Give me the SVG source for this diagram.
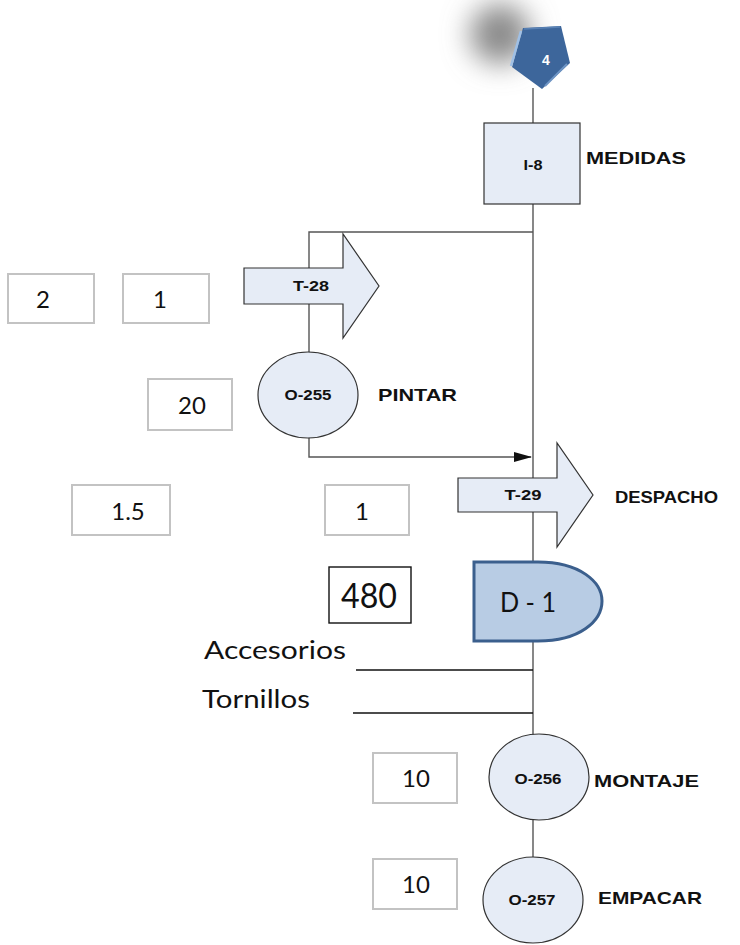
<svg xmlns="http://www.w3.org/2000/svg" width="740" height="945" viewBox="0 0 740 945">
  <defs>
    <filter id="soft" x="-1" y="-1" width="3" height="3">
      <feGaussianBlur stdDeviation="14"/>
    </filter>
    <marker id="arrow" markerWidth="18" markerHeight="10" refX="17" refY="5" orient="auto" markerUnits="userSpaceOnUse">
      <path d="M0,0 L18,5 L0,10 Z" fill="#111"/>
    </marker>
    <style>
      .ln { stroke: #555; stroke-width: 1.4; fill: none; }
      .blk { stroke: #111; stroke-width: 1.4; fill: none; }
      .shape { fill: #e6ecf6; stroke: #333; stroke-width: 1.2; }
      .tbox { fill: #fff; stroke: #c3c3c3; stroke-width: 2; }
      .code { font-family: "Liberation Sans", Arial, sans-serif; font-weight: bold; font-size: 14px; fill: #111; text-anchor: middle; }
      .lbl { font-family: "Liberation Sans", Arial, sans-serif; font-weight: bold; font-size: 17px; fill: #111; }
      .num { font-family: Lato, "Open Sans", sans-serif; font-size: 24px; fill: #111; text-anchor: middle; }
      .mat { font-family: Lato, "Open Sans", sans-serif; font-size: 25px; fill: #111; }
    </style>
  </defs>

  <!-- connectors -->
  <g id="connectors">
    <line class="ln" x1="533" y1="88" x2="533" y2="735"/>
    <line class="ln" x1="533" y1="818" x2="533" y2="858"/>
    <polyline class="ln" points="533,232 309,232 309,353"/>
    <polyline class="ln" points="309,437 309,457 531,457" marker-end="url(#arrow)"/>
    <line class="blk" x1="356" y1="670" x2="533" y2="670"/>
    <line class="blk" x1="353" y1="713" x2="533" y2="713"/>
  </g>

  <!-- connector from preceding sheet -->
  <g id="con-4">
    <circle cx="500" cy="34" r="30" fill="#8a8a8a" filter="url(#soft)"/>
    <polygon points="523,28 561,26 570,63 542,89 512,67" fill="#3d669b"/>
    <polyline points="521,31 511,66" stroke="#9fc0e6" stroke-width="2.5" fill="none"/>
    <polyline points="545,86 567,64" stroke="#6f95c4" stroke-width="2" fill="none"/>
    <polyline points="524,29 560,27" stroke="#5a82b5" stroke-width="1.5" fill="none"/>
    <text x="546" y="65" font-family="Liberation Sans, Arial, sans-serif" font-weight="bold" font-size="14" fill="#fff" text-anchor="middle">4</text>
  </g>

  <g id="I-8">
    <rect class="shape" x="484" y="123" width="96" height="81"/>
    <text class="code" x="533" y="170" textLength="19" lengthAdjust="spacingAndGlyphs">I-8</text>
    <text class="lbl" x="586" y="164" font-size="19" textLength="100" lengthAdjust="spacingAndGlyphs">MEDIDAS</text>
  </g>

  <g id="T-28">
    <polygon class="shape" points="244,268 343,268 343,234 379,286 343,338 343,304 244,304"/>
    <text class="code" x="311" y="291" textLength="36" lengthAdjust="spacingAndGlyphs">T-28</text>
  </g>

  <g id="O-255">
    <ellipse class="shape" cx="308" cy="395" rx="50" ry="43"/>
    <text class="code" x="308" y="400" textLength="47" lengthAdjust="spacingAndGlyphs">O-255</text>
    <text class="lbl" x="378" y="401" textLength="79" lengthAdjust="spacingAndGlyphs">PINTAR</text>
  </g>

  <g id="T-29">
    <polygon class="shape" points="458,478 557,478 557,443 593,495 557,547 557,512 458,512"/>
    <text class="code" x="523" y="500" textLength="37" lengthAdjust="spacingAndGlyphs">T-29</text>
    <text class="lbl" x="615" y="503" textLength="103" lengthAdjust="spacingAndGlyphs">DESPACHO</text>
  </g>

  <g id="D-1">
    <path d="M474,562 L538,562 C580,562 602,582 602,601 C602,621 580,641 538,641 L474,641 Z" fill="#b8cce4" stroke="#3b5f8d" stroke-width="3"/>
    <text x="528" y="612" font-family="Lato, 'Open Sans', sans-serif" font-size="26" fill="#111" text-anchor="middle" textLength="56" lengthAdjust="spacingAndGlyphs">D - 1</text>
  </g>

  <g id="D-1-time">
    <rect x="329" y="567" width="82" height="56" fill="#fff" stroke="#111" stroke-width="1.4"/>
    <text x="369" y="608" font-family="Lato, 'Open Sans', sans-serif" font-size="34" fill="#111" text-anchor="middle" textLength="56" lengthAdjust="spacingAndGlyphs">480</text>
  </g>

  <g id="materials">
    <text class="mat" x="204" y="659" textLength="142" lengthAdjust="spacingAndGlyphs">Accesorios</text>
    <text class="mat" x="202" y="708" textLength="108" lengthAdjust="spacingAndGlyphs">Tornillos</text>
  </g>

  <g id="O-256">
    <ellipse class="shape" cx="539" cy="777" rx="50" ry="43"/>
    <text class="code" x="538" y="784" textLength="47" lengthAdjust="spacingAndGlyphs">O-256</text>
    <text class="lbl" x="594" y="787" textLength="105" lengthAdjust="spacingAndGlyphs">MONTAJE</text>
  </g>

  <g id="O-257">
    <ellipse class="shape" cx="533" cy="900" rx="50" ry="43"/>
    <text class="code" x="532" y="905" textLength="47" lengthAdjust="spacingAndGlyphs">O-257</text>
    <text class="lbl" x="598" y="904" textLength="104" lengthAdjust="spacingAndGlyphs">EMPACAR</text>
  </g>

  <!-- time boxes -->
  <g id="times">
    <rect class="tbox" x="8" y="274" width="86" height="49"/>
    <text class="num" x="43" y="308">2</text>
    <rect class="tbox" x="123" y="274" width="86" height="49"/>
    <text class="num" x="160" y="308">1</text>
    <rect class="tbox" x="148" y="379" width="84" height="51"/>
    <text class="num" x="192" y="414">20</text>
    <rect class="tbox" x="72" y="485" width="98" height="50"/>
    <text class="num" x="128" y="520">1.5</text>
    <rect class="tbox" x="325" y="485" width="84" height="50"/>
    <text class="num" x="362" y="520">1</text>
    <rect class="tbox" x="373" y="753" width="84" height="50"/>
    <text class="num" x="416" y="787">10</text>
    <rect class="tbox" x="373" y="859" width="84" height="50"/>
    <text class="num" x="416" y="893">10</text>
  </g>
</svg>
